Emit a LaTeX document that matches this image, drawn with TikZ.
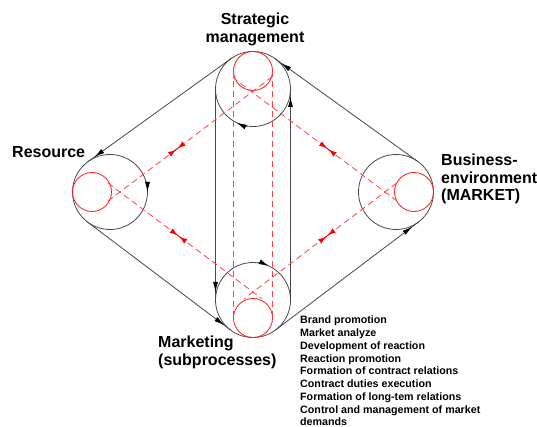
\documentclass[tikz,border=0pt]{standalone}
\usepackage{fontspec}
\setmainfont{Liberation Sans}
\usetikzlibrary{calc,arrows.meta,decorations.markings}

\begin{document}
\begin{tikzpicture}[x=1pt,y=1pt,
  line/.style={draw=black!72, line width=0.8pt},
  flow/.style={line, postaction={decorate},
    decoration={markings, mark=at position -8pt with {\arrow[black]{Latex[length=10pt,width=5pt]}}}},
  turn/.style={line, -{Latex[length=10pt,width=5pt]}, arrows={[black]}},
  bigc/.style={circle, line, minimum size=75pt, inner sep=0pt, outer sep=0pt},
  smallc/.style={circle, draw=red!90, line width=0.8pt, minimum size=39pt, inner sep=0pt, outer sep=0pt},
  reddash/.style={draw=red!75, line width=0.8pt, dash pattern=on 6pt off 4pt},
  redtip/.style={draw=red, line width=1pt,
    {Latex[reversed,length=8pt,width=5.5pt]}-{Latex[reversed,length=8pt,width=5.5pt]}},
  title/.style={font=\fontsize{16}{17.5}\selectfont\bfseries, inner sep=0pt},
  list/.style={font=\fontsize{10.7}{12.75}\selectfont\bfseries, inner sep=0pt, align=left}
]
\useasboundingbox (0,0) rectangle (537,427);

% the four units
\node[bigc] (T) at (253,338) {};
\node[bigc] (L) at (110,235) {};
\node[bigc] (R) at (396,235) {};
\node[bigc] (B) at (253,127) {};

% inner red circles, each touching its unit from inside
\node[smallc] (rT) at (253,356) {};
\node[smallc] (rL) at (92,235) {};
\node[smallc] (rR) at (414,235) {};
\node[smallc] (rB) at (253,109) {};

% tangent points of the outer loop
\coordinate (tTL) at ($(T)!37.5pt!-90:(L)$);
\coordinate (tLT) at ($(L)!37.5pt!90:(T)$);
\coordinate (tLB) at ($(L)!37.5pt!-90:(B)$);
\coordinate (tBL) at ($(B)!37.5pt!90:(L)$);
\coordinate (tBR) at ($(B)!37.5pt!-90:(R)$);
\coordinate (tRB) at ($(R)!37.5pt!90:(B)$);
\coordinate (tRT) at ($(R)!37.5pt!-90:(T)$);
\coordinate (tTR) at ($(T)!37.5pt!90:(R)$);

% outer loop
\draw[flow] (tTL) -- (tLT);
\draw[flow] (tLB) -- (tBL);
\draw[flow] (tBR) -- (tRB);
\draw[flow] (tRT) -- (tTR);

% inner vertical loop
\draw[flow] (T.west) -- (B.west);
\draw[flow] (B.east) -- (T.east);

% rotation marks on the units
\draw[turn] ([shift={(262:37.5)}]T.center) arc (262:244:37.5);
\draw[turn] ([shift={(18:37.5)}]L.center) arc (18:0:37.5);
\draw[turn] ([shift={(84:37.5)}]B.center) arc (84:65:37.5);

% red links
\coordinate (cT) at (252,335);
\coordinate (cL) at (120,235);
\coordinate (cR) at (385,235);
\coordinate (cB) at (253,135);

\draw[reddash] (rT.west) -- (rB.west);
\draw[reddash] (rT.east) -- (rB.east);
\draw[reddash] ($(cL)!-15pt!(cT)$) -- ($(cT)!-24pt!(cL)$);
\draw[reddash] ($(cR)!-15pt!(cT)$) -- ($(cT)!-24pt!(cR)$);
\draw[reddash] ($(cL)!-15pt!(cB)$) -- ($(cB)!-11pt!(cL)$);
\draw[reddash] ($(cR)!-15pt!(cB)$) -- ($(cB)!-11pt!(cR)$);

\coordinate (mUL) at ($(cL)!0.43!(cT)$);
\coordinate (mDL) at ($(cL)!0.44!(cB)$);
\coordinate (mUR) at ($(cR)!0.43!(cT)$);
\coordinate (mDR) at ($(cR)!0.44!(cB)$);
\draw[redtip] ($(mUL)!9pt!(cL)$) -- ($(mUL)!9pt!(cT)$);
\draw[redtip] ($(mDL)!9pt!(cL)$) -- ($(mDL)!9pt!(cB)$);
\draw[redtip] ($(mUR)!9pt!(cR)$) -- ($(mUR)!9pt!(cT)$);
\draw[redtip] ($(mDR)!9pt!(cR)$) -- ($(mDR)!9pt!(cB)$);

% labels
\node[title, align=center, anchor=north] (lT) at (255,414) {Strategic\\management};
\node[title, anchor=west] (lL) at (12,275) {Resource};
\node[title, align=left, anchor=north west] (lR) at (441,273) {Business-\\environment\\(MARKET)};
\node[title, align=left, anchor=north west] (lB) at (158,91) {Marketing\\(subprocesses)};
\node[list, anchor=north west] (lst) at (300,111) {Brand promotion\\Market analyze\\Development of reaction\\Reaction promotion\\Formation of contract relations\\Contract duties execution\\Formation of long-tem relations\\Control and management of market\\demands};
\end{tikzpicture}
\end{document}
